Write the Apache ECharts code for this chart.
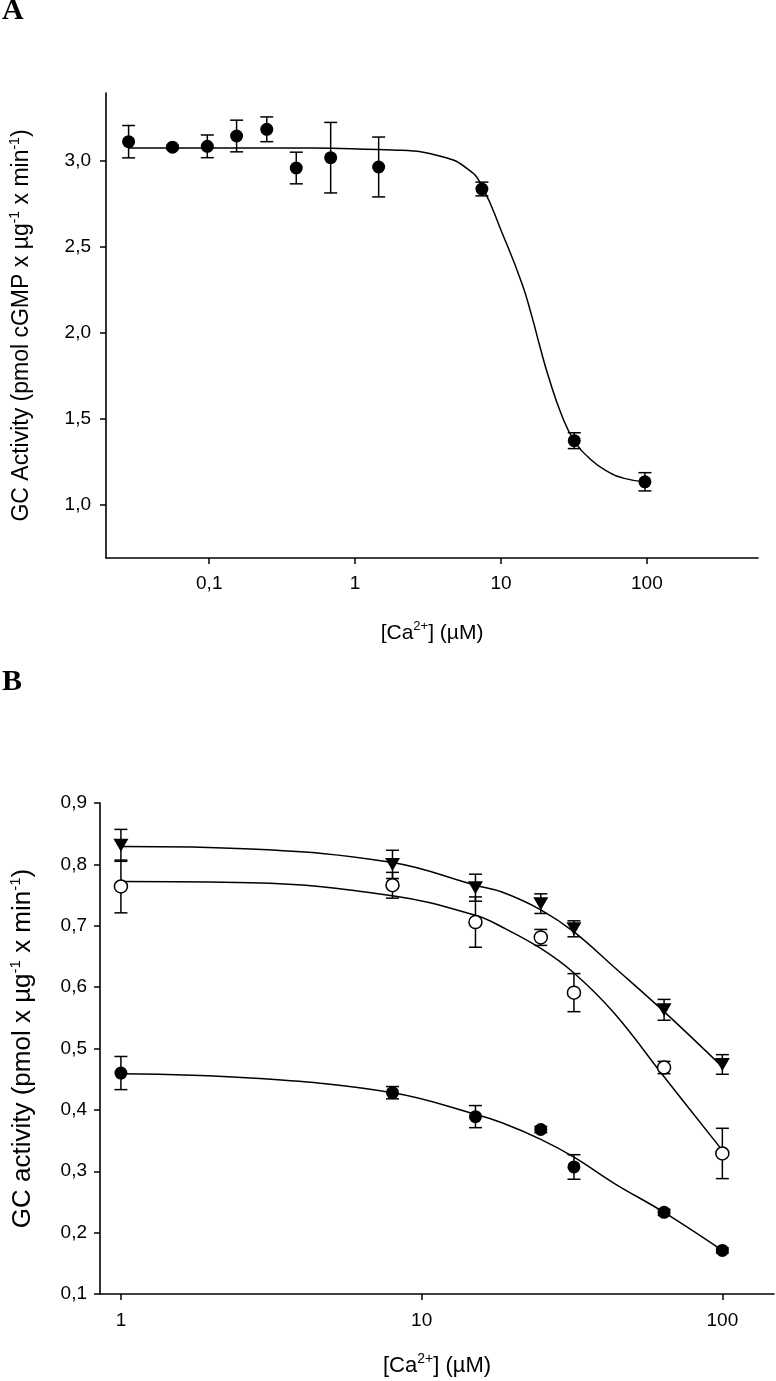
<!DOCTYPE html>
<html>
<head>
<meta charset="utf-8">
<title>GC activity vs [Ca2+]</title>
<script src="https://cdn.jsdelivr.net/npm/echarts@6/dist/echarts.min.js"></script>
<style>
  html, body { margin: 0; padding: 0; background: #fff; }
  #chart { width: 776px; height: 1381px; }
</style>
</head>
<body>
<div id="chart"></div>
<script>
// ---- panel A : GC activity vs [Ca2+] ----
const caA = [0.028, 0.056, 0.097, 0.154, 0.248, 0.395, 0.68, 1.45, 7.4, 31.8, 97];
const gcA = [3.112, 3.08, 3.085, 3.145, 3.184, 2.959, 3.019, 2.965, 2.837, 1.374, 1.135];
const errA = [0.094, 0.01, 0.066, 0.092, 0.072, 0.092, 0.205, 0.174, 0.04, 0.046, 0.053];
// fitted curve
const fitAx = [0.028, 0.1, 0.5, 1.45, 1.81, 3.97, 6.03, 7.43, 10.2, 13.9, 16.3, 18.5, 21.1, 26, 31.8, 41.6, 54, 70, 97];
const fitAy = [3.076, 3.076, 3.075, 3.066, 3.064, 3.025, 2.948, 2.851, 2.58, 2.289, 2.095, 1.92, 1.75, 1.525, 1.374, 1.262, 1.194, 1.155, 1.135];
const yTicksA = [1, 1.5, 2, 2.5, 3];
const xTicksA = [0.1, 1, 10, 100];

// ---- panel B : three conditions ----
const caB = [1, 8, 15.1, 24.9, 32.1, 64, 100];
const triB = [0.831, 0.80, 0.762, 0.736, 0.695, 0.563, 0.474];
const triErr = [0.026, 0.023, 0.022, 0.016, 0.013, 0.017, 0.016];
const openB = [0.764, 0.766, 0.706, 0.681, 0.591, 0.469, 0.329];
const openErr = [0.043, 0.021, 0.041, 0.013, 0.031, 0.01, 0.041];
const fillB = [0.46, 0.428, 0.389, 0.368, 0.307, 0.233, 0.171];
const fillErr = [0.027, 0.01, 0.018, 0.005, 0.02, 0.005, 0.004];
// fitted curves
const fitBx = [1, 2.7, 8, 15.1, 18.5, 24.9, 32.1, 43.8, 64, 100];
const fitTri = [0.829, 0.825, 0.803, 0.766, 0.755, 0.726, 0.69, 0.632, 0.56, 0.47];
const fitOpen = [0.772, 0.770, 0.749, 0.717, 0.698, 0.663, 0.623, 0.557, 0.454, 0.334];
const fitFill = [0.459, 0.452, 0.428, 0.393, 0.379, 0.352, 0.323, 0.28, 0.233, 0.171];
const xTicksB = [1, 10, 100];

const FONT = 'Liberation Sans';
const comma = v => String(+v.toFixed(2)).replace('.', ',');

function pairs(xs, ys) {
  return xs.map((x, i) => [x, ys[i]]);
}

function errorBars(xs, ys, es, idx) {
  return {
    type: 'custom',
    xAxisIndex: idx,
    yAxisIndex: idx,
    silent: true,
    z: 2,
    data: xs.map((x, i) => [x, ys[i] - es[i], ys[i] + es[i]]),
    encode: { x: 0, y: [1, 2] },
    renderItem: (params, api) => {
      const lo = api.coord([api.value(0), api.value(1)]);
      const hi = api.coord([api.value(0), api.value(2)]);
      const w = 6.5;
      const st = { stroke: '#000', lineWidth: 1.5 };
      return {
        type: 'group',
        children: [
          { type: 'line', shape: { x1: lo[0], y1: lo[1], x2: hi[0], y2: hi[1] }, style: st },
          { type: 'line', shape: { x1: lo[0] - w, y1: lo[1], x2: lo[0] + w, y2: lo[1] }, style: st },
          { type: 'line', shape: { x1: hi[0] - w, y1: hi[1], x2: hi[0] + w, y2: hi[1] }, style: st }
        ]
      };
    }
  };
}

function fitLine(xs, ys, idx, smooth) {
  return {
    type: 'line',
    xAxisIndex: idx,
    yAxisIndex: idx,
    data: pairs(xs, ys),
    showSymbol: false,
    smooth: smooth,
    silent: true,
    z: 3,
    lineStyle: { color: '#000', width: 1.5 }
  };
}

function dots(xs, ys, idx, extra) {
  return Object.assign({
    type: 'scatter',
    xAxisIndex: idx,
    yAxisIndex: idx,
    data: pairs(xs, ys),
    symbol: 'circle',
    symbolSize: 13,
    z: 4,
    itemStyle: { color: '#000', opacity: 1 }
  }, extra);
}

const supRich = size => ({
  sup: { fontSize: size, fontFamily: FONT, color: '#000', verticalAlign: 'top', lineHeight: size + 2 }
});

const axisLine = { lineStyle: { color: '#000', width: 1.6 } };
const axisTick = { length: 6, lineStyle: { color: '#000', width: 1.5 } };
const label = { color: '#000', fontFamily: FONT, fontSize: 19 };

const chart = echarts.init(document.getElementById('chart'), null, { renderer: 'canvas' });

chart.setOption({
  animation: false,
  backgroundColor: '#fff',
  title: [
    { text: 'A', left: 2, top: -4, padding: 0,
      textStyle: { fontFamily: 'Liberation Serif', fontWeight: 'bold', fontSize: 30, color: '#000' } },
    { text: 'B', left: 2, top: 667, padding: 0,
      textStyle: { fontFamily: 'Liberation Serif', fontWeight: 'bold', fontSize: 30, color: '#000' } }
  ],
  grid: [
    { left: 101, top: 93, width: 657, height: 465 },
    { left: 95, top: 803, width: 679, height: 491 }
  ],
  xAxis: [
    {
      type: 'log', gridIndex: 0, min: 0.0196, max: 578,
      axisLine, splitLine: { show: false },
      axisTick: Object.assign({ customValues: xTicksA }, axisTick),
      axisLabel: Object.assign({ customValues: xTicksA, margin: 16, formatter: comma }, label),
      name: '[Ca{sup|2+}] (µM)', nameLocation: 'middle', nameGap: 62,
      nameTextStyle: { fontFamily: FONT, fontSize: 21, color: '#000', lineHeight: 26, rich: supRich(13) }
    },
    {
      type: 'log', gridIndex: 1, min: 0.852, max: 148.5,
      axisLine, splitLine: { show: false },
      axisTick: Object.assign({ customValues: xTicksB }, axisTick),
      axisLabel: Object.assign({ customValues: xTicksB, margin: 17, formatter: comma }, label),
      name: '[Ca{sup|2+}] (µM)', nameLocation: 'middle', nameGap: 58,
      nameTextStyle: { fontFamily: FONT, fontSize: 22, color: '#000', lineHeight: 28, rich: supRich(14) }
    }
  ],
  yAxis: [
    {
      type: 'value', gridIndex: 0, min: 0.692, max: 3.395,
      axisLine, splitLine: { show: false },
      axisTick: Object.assign({ customValues: yTicksA }, axisTick),
      axisLabel: Object.assign({ customValues: yTicksA, margin: 15, formatter: v => v.toFixed(1).replace('.', ',') }, label),
      name: 'GC Activity (pmol cGMP x µg{sup|-1} x min{sup|-1})', nameLocation: 'middle', nameGap: 70,
      nameTextStyle: { fontFamily: FONT, fontSize: 23, color: '#000', lineHeight: 28, rich: supRich(14) }
    },
    {
      type: 'value', gridIndex: 1, min: 0.1, max: 0.9, interval: 0.1,
      axisLine, splitLine: { show: false }, axisTick,
      axisLabel: Object.assign({ margin: 13, formatter: v => v.toFixed(1).replace('.', ',') }, label),
      name: 'GC activity (pmol x µg{sup|-1} x min{sup|-1})', nameLocation: 'middle', nameGap: 62,
      nameTextStyle: { fontFamily: FONT, fontSize: 26, color: '#000', lineHeight: 30, rich: supRich(15) }
    }
  ],
  series: [
    errorBars(caA, gcA, errA, 0),
    fitLine(fitAx, fitAy, 0, 0.5),
    dots(caA, gcA, 0),

    errorBars(caB, triB, triErr, 1),
    errorBars(caB, openB, openErr, 1),
    errorBars(caB, fillB, fillErr, 1),
    fitLine(fitBx, fitTri, 1, 0.4),
    fitLine(fitBx, fitOpen, 1, 0.4),
    fitLine(fitBx, fitFill, 1, 0.4),
    dots(caB, triB, 1, { symbol: 'triangle', symbolRotate: 180, symbolSize: [15, 13] }),
    dots(caB, openB, 1, { itemStyle: { color: '#fff', borderColor: '#000', borderWidth: 1.5, opacity: 1 } }),
    dots(caB, fillB, 1)
  ]
});
</script>
</body>
</html>
